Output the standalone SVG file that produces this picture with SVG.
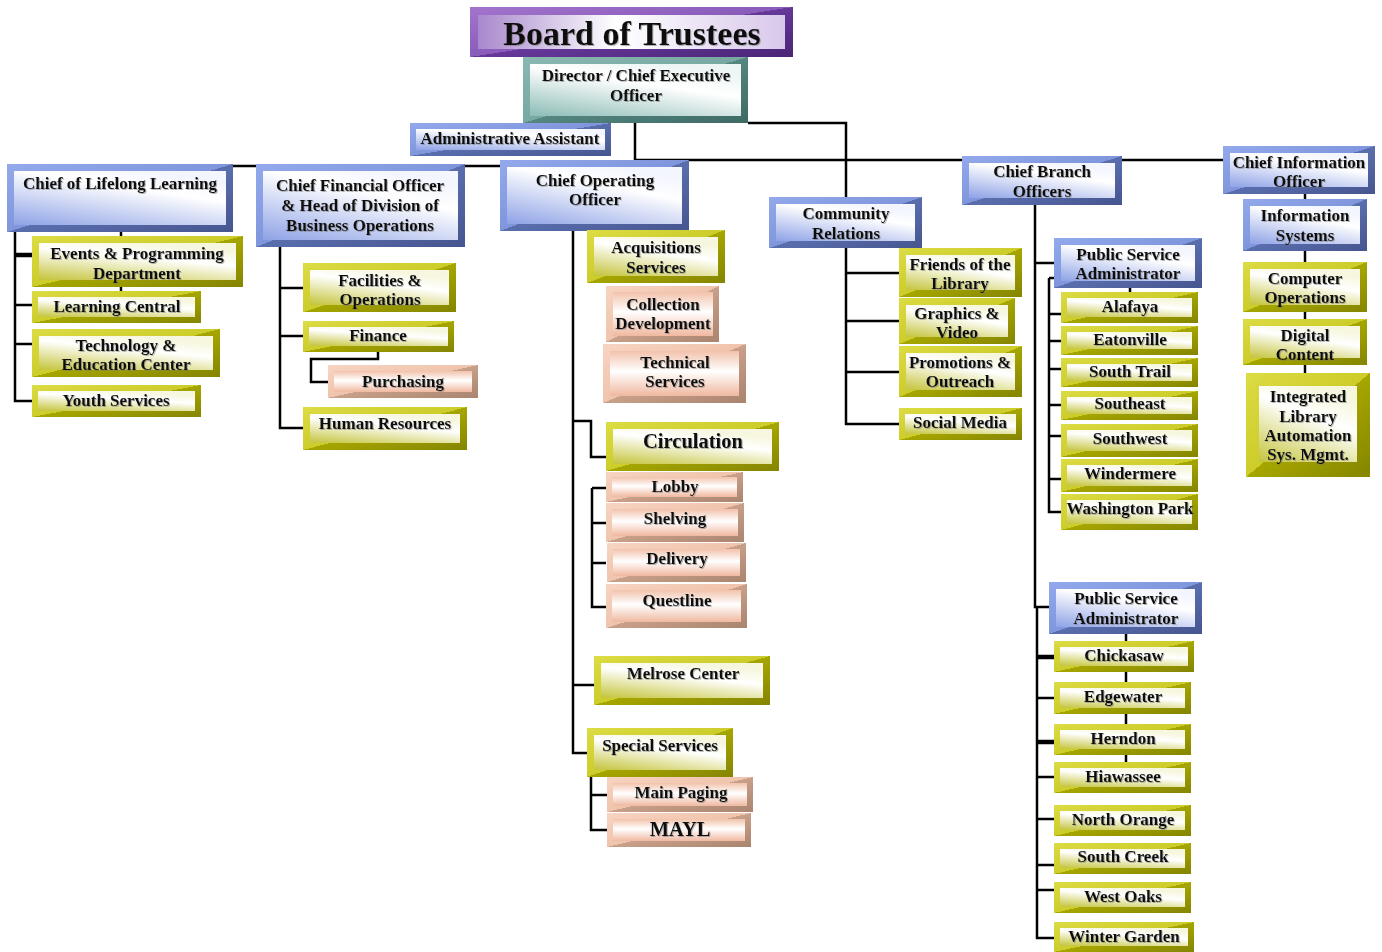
<svg xmlns="http://www.w3.org/2000/svg" width="1382" height="952" viewBox="0 0 1382 952">
<defs>
<linearGradient id="bvB" x1="0" y1="0" x2="1" y2="1"><stop offset="0" stop-color="#93a9ec"/><stop offset="0.5" stop-color="#7f96dc"/><stop offset="0.5" stop-color="#5a6eae"/><stop offset="1" stop-color="#46558f"/></linearGradient>
<linearGradient id="bvY" x1="0" y1="0" x2="1" y2="1"><stop offset="0" stop-color="#dcdc44"/><stop offset="0.5" stop-color="#cccc2a"/><stop offset="0.5" stop-color="#a6a600"/><stop offset="1" stop-color="#858500"/></linearGradient>
<linearGradient id="bvP" x1="0" y1="0" x2="1" y2="1"><stop offset="0" stop-color="#f7d4c2"/><stop offset="0.5" stop-color="#f0c4ac"/><stop offset="0.5" stop-color="#c9a08a"/><stop offset="1" stop-color="#a9846f"/></linearGradient>
<linearGradient id="bvT" x1="0" y1="0" x2="1" y2="1"><stop offset="0" stop-color="#8ab8b2"/><stop offset="0.5" stop-color="#78a8a2"/><stop offset="0.5" stop-color="#558680"/><stop offset="1" stop-color="#3e6a64"/></linearGradient>
<linearGradient id="bvV" x1="0" y1="0" x2="1" y2="1"><stop offset="0" stop-color="#a274cc"/><stop offset="0.5" stop-color="#8a5cba"/><stop offset="0.5" stop-color="#66389a"/><stop offset="1" stop-color="#4a2676"/></linearGradient>
<linearGradient id="fcB" x1="0" y1="1" x2="0.6" y2="0"><stop offset="0" stop-color="#8ea2e6"/><stop offset="0.75" stop-color="#ffffff"/><stop offset="1" stop-color="#f4f6ff"/></linearGradient>
<linearGradient id="fcY" x1="0" y1="1" x2="0.5" y2="0"><stop offset="0" stop-color="#c4c43c"/><stop offset="0.7" stop-color="#ffffff"/><stop offset="1" stop-color="#f7f7e0"/></linearGradient>
<linearGradient id="fcP" x1="0" y1="0" x2="0" y2="1"><stop offset="0" stop-color="#f2c2ab"/><stop offset="0.45" stop-color="#ffffff"/><stop offset="1" stop-color="#f0b8a0"/></linearGradient>
<linearGradient id="fcT" x1="0" y1="1" x2="0.6" y2="0"><stop offset="0" stop-color="#8cbcb6"/><stop offset="0.7" stop-color="#ffffff"/><stop offset="1" stop-color="#eef6f5"/></linearGradient>
<linearGradient id="fcV" x1="0" y1="0" x2="1" y2="0"><stop offset="0" stop-color="#a888cc"/><stop offset="0.45" stop-color="#ffffff"/><stop offset="1" stop-color="#d8c8ea"/></linearGradient>
<filter id="ts" x="-5%" y="-20%" width="110%" height="140%"><feDropShadow dx="1" dy="1" stdDeviation="0.6" flood-color="#777" flood-opacity="0.55"/></filter>
</defs>
<style>
.ob{fill:url(#bvB)} .fb{fill:url(#fcB)}
.oy{fill:url(#bvY)} .fy{fill:url(#fcY)}
.op{fill:url(#bvP)} .fp{fill:url(#fcP)}
.ot{fill:url(#bvT)} .ft{fill:url(#fcT)}
.ov{fill:url(#bvV)} .fv{fill:url(#fcV)}
text{font-family:"Liberation Serif","Times New Roman",serif;font-weight:bold;font-size:17px;fill:#111;text-anchor:middle;filter:url(#ts)}
.big{font-size:20.5px}
.title{font-size:34px}
#conn path{fill:none;stroke:#000;stroke-width:2.5}
#conn path.dbl{stroke-width:4.5}
</style>
<rect width="1382" height="952" fill="#fff"/>
<g id="conn">
<path d="M635,123 V166"/>
<path d="M635,160 H1224"/>
<path d="M233,166 H500"/>
<path d="M748,123 H846 V198"/>
<path d="M15,232 V401 H32 M15,305 H32 M15,344 H32 M121,232 V291"/>
<path class="dbl" d="M15,255 H32"/>
<path d="M280,247 V428 H303 M280,288 H303 M280,336 H303 M378,352 V359 H311 V382 H328"/>
<path d="M573,231 V753 H587 M573,421 H591 V457 H606 M573,685 H594"/>
<path d="M592,488 V607 H606 M592,488 H606 M592,523 H606 M592,563 H606"/>
<path d="M591,777 V830 H607 M591,795 H607"/>
<path d="M846,248 V424 H899 M846,273 H899 M846,321 H899 M846,372 H899"/>
<path d="M1035,205 V607 H1049 M1035,263 H1054"/>
<path d="M1049,278 V512 H1062 M1049,278 H1055 M1049,314 H1062 M1049,341 H1062 M1049,369 H1062 M1049,405 H1062 M1049,436 H1062 M1049,479 H1062 M1130,288 V292"/>
<path d="M1305,194 V373"/>
<path d="M1037,607 V938 H1054 M1037,698 H1054 M1037,777 H1054 M1037,819 H1054 M1037,865 H1054 M1037,890 H1054"/>
<path class="dbl" d="M1037,657 H1054 M1037,742 H1054"/>
<path d="M1126,634 V793"/>
</g>
<g id="n-board"><rect class="ov" x="470" y="7" width="323" height="50"/><rect class="fv" x="478" y="15" width="307" height="34"/><text class="title" x="632" y="45">Board of Trustees</text></g>
<g id="n-director"><rect class="ot" x="523" y="57" width="225" height="66"/><rect class="ft" x="530" y="64" width="211" height="52"/><text x="636" y="81">Director / Chief Executive</text><text x="636" y="101">Officer</text></g>
<g id="n-admin"><rect class="ob" x="410" y="123" width="201" height="33"/><rect class="fb" x="416" y="129" width="189" height="21"/><text x="510" y="144">Administrative Assistant</text></g>
<g id="n-coo"><rect class="ob" x="500" y="160" width="189" height="71"/><rect class="fb" x="507" y="167" width="175" height="57"/><text x="595" y="186">Chief Operating</text><text x="595" y="205">Officer</text></g>
<g id="n-lifelong"><rect class="ob" x="7" y="164" width="226" height="68"/><rect class="fb" x="14" y="171" width="212" height="54"/><text x="120" y="189">Chief of Lifelong Learning</text></g>
<g id="n-events"><rect class="oy" x="32" y="236" width="211" height="51"/><rect class="fy" x="39" y="243" width="197" height="37"/><text x="137" y="259">Events &amp; Programming</text><text x="137" y="279">Department</text></g>
<g id="n-learning"><rect class="oy" x="32" y="291" width="169" height="32"/><rect class="fy" x="38" y="297" width="157" height="20"/><text x="117" y="312">Learning Central</text></g>
<g id="n-tech"><rect class="oy" x="32" y="329" width="188" height="48"/><rect class="fy" x="39" y="336" width="174" height="34"/><text x="126" y="351">Technology &amp;</text><text x="126" y="370">Education Center</text></g>
<g id="n-youth"><rect class="oy" x="32" y="385" width="169" height="32"/><rect class="fy" x="38" y="391" width="157" height="20"/><text x="116" y="406">Youth Services</text></g>
<g id="n-cfo"><rect class="ob" x="256" y="164" width="209" height="83"/><rect class="fb" x="263" y="171" width="195" height="69"/><text x="360" y="191">Chief Financial Officer</text><text x="360" y="211">&amp; Head of Division of</text><text x="360" y="231">Business Operations</text></g>
<g id="n-facilities"><rect class="oy" x="303" y="263" width="153" height="49"/><rect class="fy" x="310" y="270" width="139" height="35"/><text x="380" y="286">Facilities &amp;</text><text x="380" y="305">Operations</text></g>
<g id="n-finance"><rect class="oy" x="303" y="321" width="151" height="31"/><rect class="fy" x="309" y="327" width="139" height="19"/><text x="378" y="341">Finance</text></g>
<g id="n-purchasing"><rect class="op" x="328" y="365" width="150" height="33"/><rect class="fp" x="334" y="371" width="138" height="21"/><text x="403" y="387">Purchasing</text></g>
<g id="n-hr"><rect class="oy" x="303" y="407" width="164" height="43"/><rect class="fy" x="310" y="414" width="150" height="29"/><text x="385" y="429">Human Resources</text></g>
<g id="n-acq"><rect class="oy" x="587" y="230" width="138" height="53"/><rect class="fy" x="594" y="237" width="124" height="39"/><text x="656" y="253">Acquisitions</text><text x="656" y="273">Services</text></g>
<g id="n-collection"><rect class="op" x="606" y="286" width="113" height="56"/><rect class="fp" x="613" y="292" width="100" height="44"/><text x="663" y="310">Collection</text><text x="663" y="329">Development</text></g>
<g id="n-technical"><rect class="op" x="603" y="344" width="143" height="59"/><rect class="fp" x="610" y="351" width="129" height="45"/><text x="675" y="368">Technical</text><text x="675" y="387">Services</text></g>
<g id="n-circulation"><rect class="oy" x="606" y="422" width="173" height="49"/><rect class="fy" x="613" y="429" width="159" height="35"/><text class="big" x="693" y="448">Circulation</text></g>
<g id="n-lobby"><rect class="op" x="606" y="472" width="137" height="30"/><rect class="fp" x="612" y="477" width="125" height="20"/><text x="675" y="492">Lobby</text></g>
<g id="n-shelving"><rect class="op" x="606" y="503" width="138" height="39"/><rect class="fp" x="612" y="509" width="126" height="27"/><text x="675" y="524">Shelving</text></g>
<g id="n-delivery"><rect class="op" x="607" y="543" width="139" height="39"/><rect class="fp" x="613" y="549" width="127" height="27"/><text x="677" y="564">Delivery</text></g>
<g id="n-questline"><rect class="op" x="606" y="584" width="141" height="44"/><rect class="fp" x="612" y="590" width="129" height="32"/><text x="677" y="606">Questline</text></g>
<g id="n-melrose"><rect class="oy" x="594" y="656" width="176" height="49"/><rect class="fy" x="601" y="663" width="162" height="35"/><text x="683" y="679">Melrose Center</text></g>
<g id="n-special"><rect class="oy" x="587" y="728" width="146" height="49"/><rect class="fy" x="594" y="735" width="132" height="35"/><text x="660" y="751">Special Services</text></g>
<g id="n-paging"><rect class="op" x="607" y="777" width="146" height="35"/><rect class="fp" x="613" y="783" width="134" height="23"/><text x="681" y="798">Main Paging</text></g>
<g id="n-mayl"><rect class="op" x="607" y="813" width="144" height="34"/><rect class="fp" x="613" y="819" width="132" height="22"/><text class="big" x="680" y="836">MAYL</text></g>
<g id="n-community"><rect class="ob" x="769" y="197" width="153" height="51"/><rect class="fb" x="776" y="204" width="139" height="37"/><text x="846" y="219">Community</text><text x="846" y="239">Relations</text></g>
<g id="n-friends"><rect class="oy" x="899" y="248" width="123" height="49"/><rect class="fy" x="906" y="255" width="109" height="35"/><text x="960" y="270">Friends of the</text><text x="960" y="289">Library</text></g>
<g id="n-graphics"><rect class="oy" x="899" y="298" width="116" height="46"/><rect class="fy" x="906" y="305" width="102" height="32"/><text x="957" y="319">Graphics &amp;</text><text x="957" y="338">Video</text></g>
<g id="n-promotions"><rect class="oy" x="899" y="346" width="123" height="51"/><rect class="fy" x="906" y="353" width="109" height="37"/><text x="960" y="368">Promotions &amp;</text><text x="960" y="387">Outreach</text></g>
<g id="n-social"><rect class="oy" x="899" y="408" width="123" height="32"/><rect class="fy" x="905" y="414" width="111" height="20"/><text x="960" y="428">Social Media</text></g>
<g id="n-branch"><rect class="ob" x="962" y="156" width="160" height="49"/><rect class="fb" x="969" y="163" width="146" height="35"/><text x="1042" y="177">Chief Branch</text><text x="1042" y="197">Officers</text></g>
<g id="n-psa1"><rect class="ob" x="1054" y="238" width="148" height="50"/><rect class="fb" x="1061" y="245" width="134" height="36"/><text x="1128" y="260">Public Service</text><text x="1128" y="279">Administrator</text></g>
<g id="n-alafaya"><rect class="oy" x="1061" y="292" width="137" height="31"/><rect class="fy" x="1067" y="298" width="125" height="19"/><text x="1130" y="312">Alafaya</text></g>
<g id="n-eatonville"><rect class="oy" x="1061" y="326" width="137" height="29"/><rect class="fy" x="1067" y="332" width="125" height="17"/><text x="1130" y="345">Eatonville</text></g>
<g id="n-southtrail"><rect class="oy" x="1061" y="358" width="137" height="29"/><rect class="fy" x="1067" y="364" width="125" height="17"/><text x="1130" y="377">South Trail</text></g>
<g id="n-southeast"><rect class="oy" x="1061" y="391" width="137" height="29"/><rect class="fy" x="1067" y="397" width="125" height="17"/><text x="1130" y="409">Southeast</text></g>
<g id="n-southwest"><rect class="oy" x="1061" y="424" width="137" height="33"/><rect class="fy" x="1067" y="430" width="125" height="21"/><text x="1130" y="444">Southwest</text></g>
<g id="n-windermere"><rect class="oy" x="1061" y="459" width="137" height="33"/><rect class="fy" x="1067" y="465" width="125" height="21"/><text x="1130" y="479">Windermere</text></g>
<g id="n-washington"><rect class="oy" x="1061" y="494" width="137" height="36"/><rect class="fy" x="1067" y="500" width="125" height="24"/><text x="1130" y="514">Washington Park</text></g>
<g id="n-cio"><rect class="ob" x="1223" y="146" width="152" height="48"/><rect class="fb" x="1230" y="153" width="138" height="34"/><text x="1299" y="168">Chief Information</text><text x="1299" y="187">Officer</text></g>
<g id="n-infosys"><rect class="ob" x="1243" y="199" width="124" height="52"/><rect class="fb" x="1250" y="206" width="110" height="38"/><text x="1305" y="221">Information</text><text x="1305" y="241">Systems</text></g>
<g id="n-compops"><rect class="oy" x="1243" y="262" width="124" height="50"/><rect class="fy" x="1250" y="269" width="110" height="36"/><text x="1305" y="284">Computer</text><text x="1305" y="303">Operations</text></g>
<g id="n-digital"><rect class="oy" x="1243" y="319" width="124" height="46"/><rect class="fy" x="1250" y="326" width="110" height="32"/><text x="1305" y="341">Digital</text><text x="1305" y="360">Content</text></g>
<g id="n-ilas"><rect class="oy" x="1246" y="373" width="124" height="104"/><rect class="fy" x="1259" y="386" width="98" height="76"/><text x="1308" y="402">Integrated</text><text x="1308" y="422">Library</text><text x="1308" y="441">Automation</text><text x="1308" y="460">Sys. Mgmt.</text></g>
<g id="n-psa2"><rect class="ob" x="1049" y="582" width="153" height="52"/><rect class="fb" x="1056" y="589" width="139" height="38"/><text x="1126" y="604">Public Service</text><text x="1126" y="624">Administrator</text></g>
<g id="n-chickasaw"><rect class="oy" x="1054" y="641" width="140" height="31"/><rect class="fy" x="1060" y="647" width="128" height="19"/><text x="1124" y="661">Chickasaw</text></g>
<g id="n-edgewater"><rect class="oy" x="1054" y="682" width="137" height="32"/><rect class="fy" x="1060" y="688" width="125" height="20"/><text x="1123" y="702">Edgewater</text></g>
<g id="n-herndon"><rect class="oy" x="1054" y="724" width="137" height="31"/><rect class="fy" x="1060" y="730" width="125" height="19"/><text x="1123" y="744">Herndon</text></g>
<g id="n-hiawassee"><rect class="oy" x="1054" y="762" width="137" height="31"/><rect class="fy" x="1060" y="768" width="125" height="19"/><text x="1123" y="782">Hiawassee</text></g>
<g id="n-northorange"><rect class="oy" x="1054" y="805" width="137" height="31"/><rect class="fy" x="1060" y="811" width="125" height="19"/><text x="1123" y="825">North Orange</text></g>
<g id="n-southcreek"><rect class="oy" x="1054" y="843" width="137" height="31"/><rect class="fy" x="1060" y="849" width="125" height="19"/><text x="1123" y="862">South Creek</text></g>
<g id="n-westoaks"><rect class="oy" x="1054" y="882" width="137" height="31"/><rect class="fy" x="1060" y="888" width="125" height="19"/><text x="1123" y="902">West Oaks</text></g>
<g id="n-wintergarden"><rect class="oy" x="1054" y="922" width="140" height="30"/><rect class="fy" x="1060" y="928" width="128" height="18"/><text x="1124" y="942">Winter Garden</text></g>
</svg>
